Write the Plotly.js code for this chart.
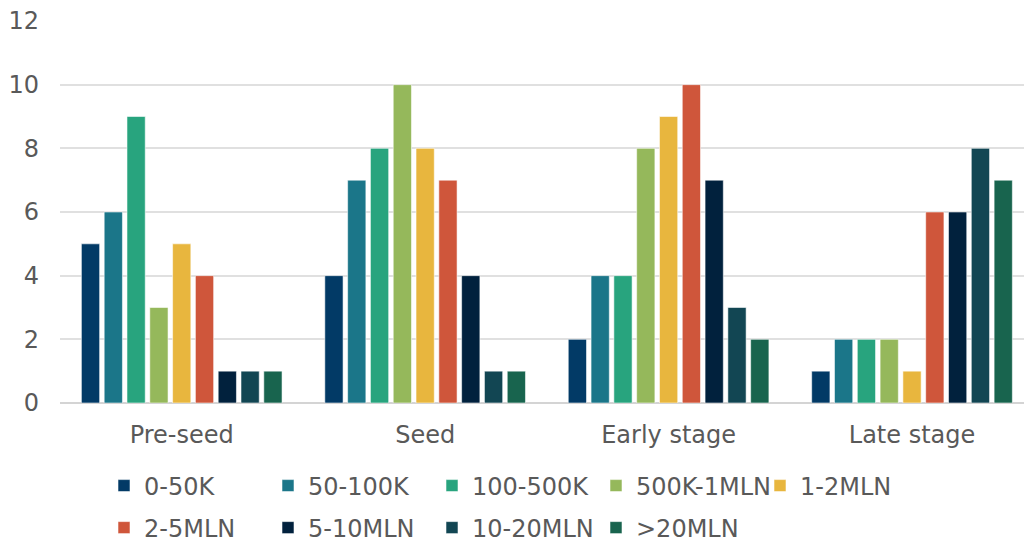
<!DOCTYPE html>
<html>
<head>
<meta charset="utf-8">
<script src="https://cdn.plot.ly/plotly-3.0.1.min.js"></script>
<style>html,body{margin:0;padding:0;background:#fff;}#chart{width:1024px;height:544px;}</style>
</head>
<body>
<div id="chart"></div>
<script>
const categories = ["Pre-seed", "Seed", "Early stage", "Late stage"];
const seriesNames = ["0-50K", "50-100K", "100-500K", "500K-1MLN", "1-2MLN", "2-5MLN", "5-10MLN", "10-20MLN", ">20MLN"];
const s0_50K      = [5, 4, 2, 1];
const s50_100K    = [6, 7, 4, 2];
const s100_500K   = [9, 8, 4, 2];
const s500K_1MLN  = [3, 10, 8, 2];
const s1_2MLN     = [5, 8, 9, 1];
const s2_5MLN     = [4, 7, 10, 6];
const s5_10MLN    = [1, 4, 7, 6];
const s10_20MLN   = [1, 1, 3, 8];
const sOver20MLN  = [1, 1, 2, 7];
const seriesValues = [s0_50K, s50_100K, s100_500K, s500K_1MLN, s1_2MLN, s2_5MLN, s5_10MLN, s10_20MLN, sOver20MLN];
const colors = ["#023A66", "#1B7689", "#28A47E", "#95B85B", "#E8B63E", "#CF563B", "#01213D", "#124653", "#18644E"];

const traces = seriesNames.map((name, i) => ({
  type: "bar",
  name: name,
  x: categories,
  y: seriesValues[i],
  marker: { color: colors[i], line: { color: "rgba(255,255,255,0.55)", width: 1 } },
  legend: i < 5 ? "legend" : "legend2",
  hoverinfo: "x+y+name"
}));

const fontFam = "Verdana, 'DejaVu Sans', sans-serif";
const legendCommon = {
  orientation: "h",
  xanchor: "left",
  yanchor: "middle",
  xref: "container",
  yref: "container",
  font: { family: fontFam, size: 24, color: "#595959" },
  entrywidth: 119,
  entrywidthmode: "pixels",
  bgcolor: "rgba(0,0,0,0)",
  traceorder: "normal"
};

const layout = {
  width: 1024,
  height: 544,
  margin: { l: 60, r: 0, t: 21, b: 141, autoexpand: false },
  paper_bgcolor: "#fff",
  plot_bgcolor: "#fff",
  barmode: "group",
  bargap: 0.157,
  bargroupgap: 0.2,
  font: { family: fontFam, size: 24, color: "#595959" },
  xaxis: {
    range: [-0.5, 3.46],
    showgrid: false,
    showline: false,
    ticks: "",
    ticklabelstandoff: 15,
    tickfont: { family: fontFam, size: 24, color: "#595959" }
  },
  yaxis: {
    range: [0, 12],
    dtick: 2,
    showgrid: true,
    gridcolor: "#e0e0e0",
    gridwidth: 2,
    zeroline: true,
    zerolinecolor: "#d4d4d4",
    zerolinewidth: 2,
    ticks: "",
    ticklabelstandoff: 20,
    tickfont: { family: fontFam, size: 24, color: "#595959" }
  },
  showlegend: true,
  legend: Object.assign({}, legendCommon, { x: 104 / 1024, y: 1 - 486 / 544 }),
  legend2: Object.assign({}, legendCommon, { x: 104 / 1024, y: 1 - 528 / 544 })
};

Plotly.newPlot("chart", traces, layout, { displayModeBar: false, staticPlot: true });
</script>
</body>
</html>
